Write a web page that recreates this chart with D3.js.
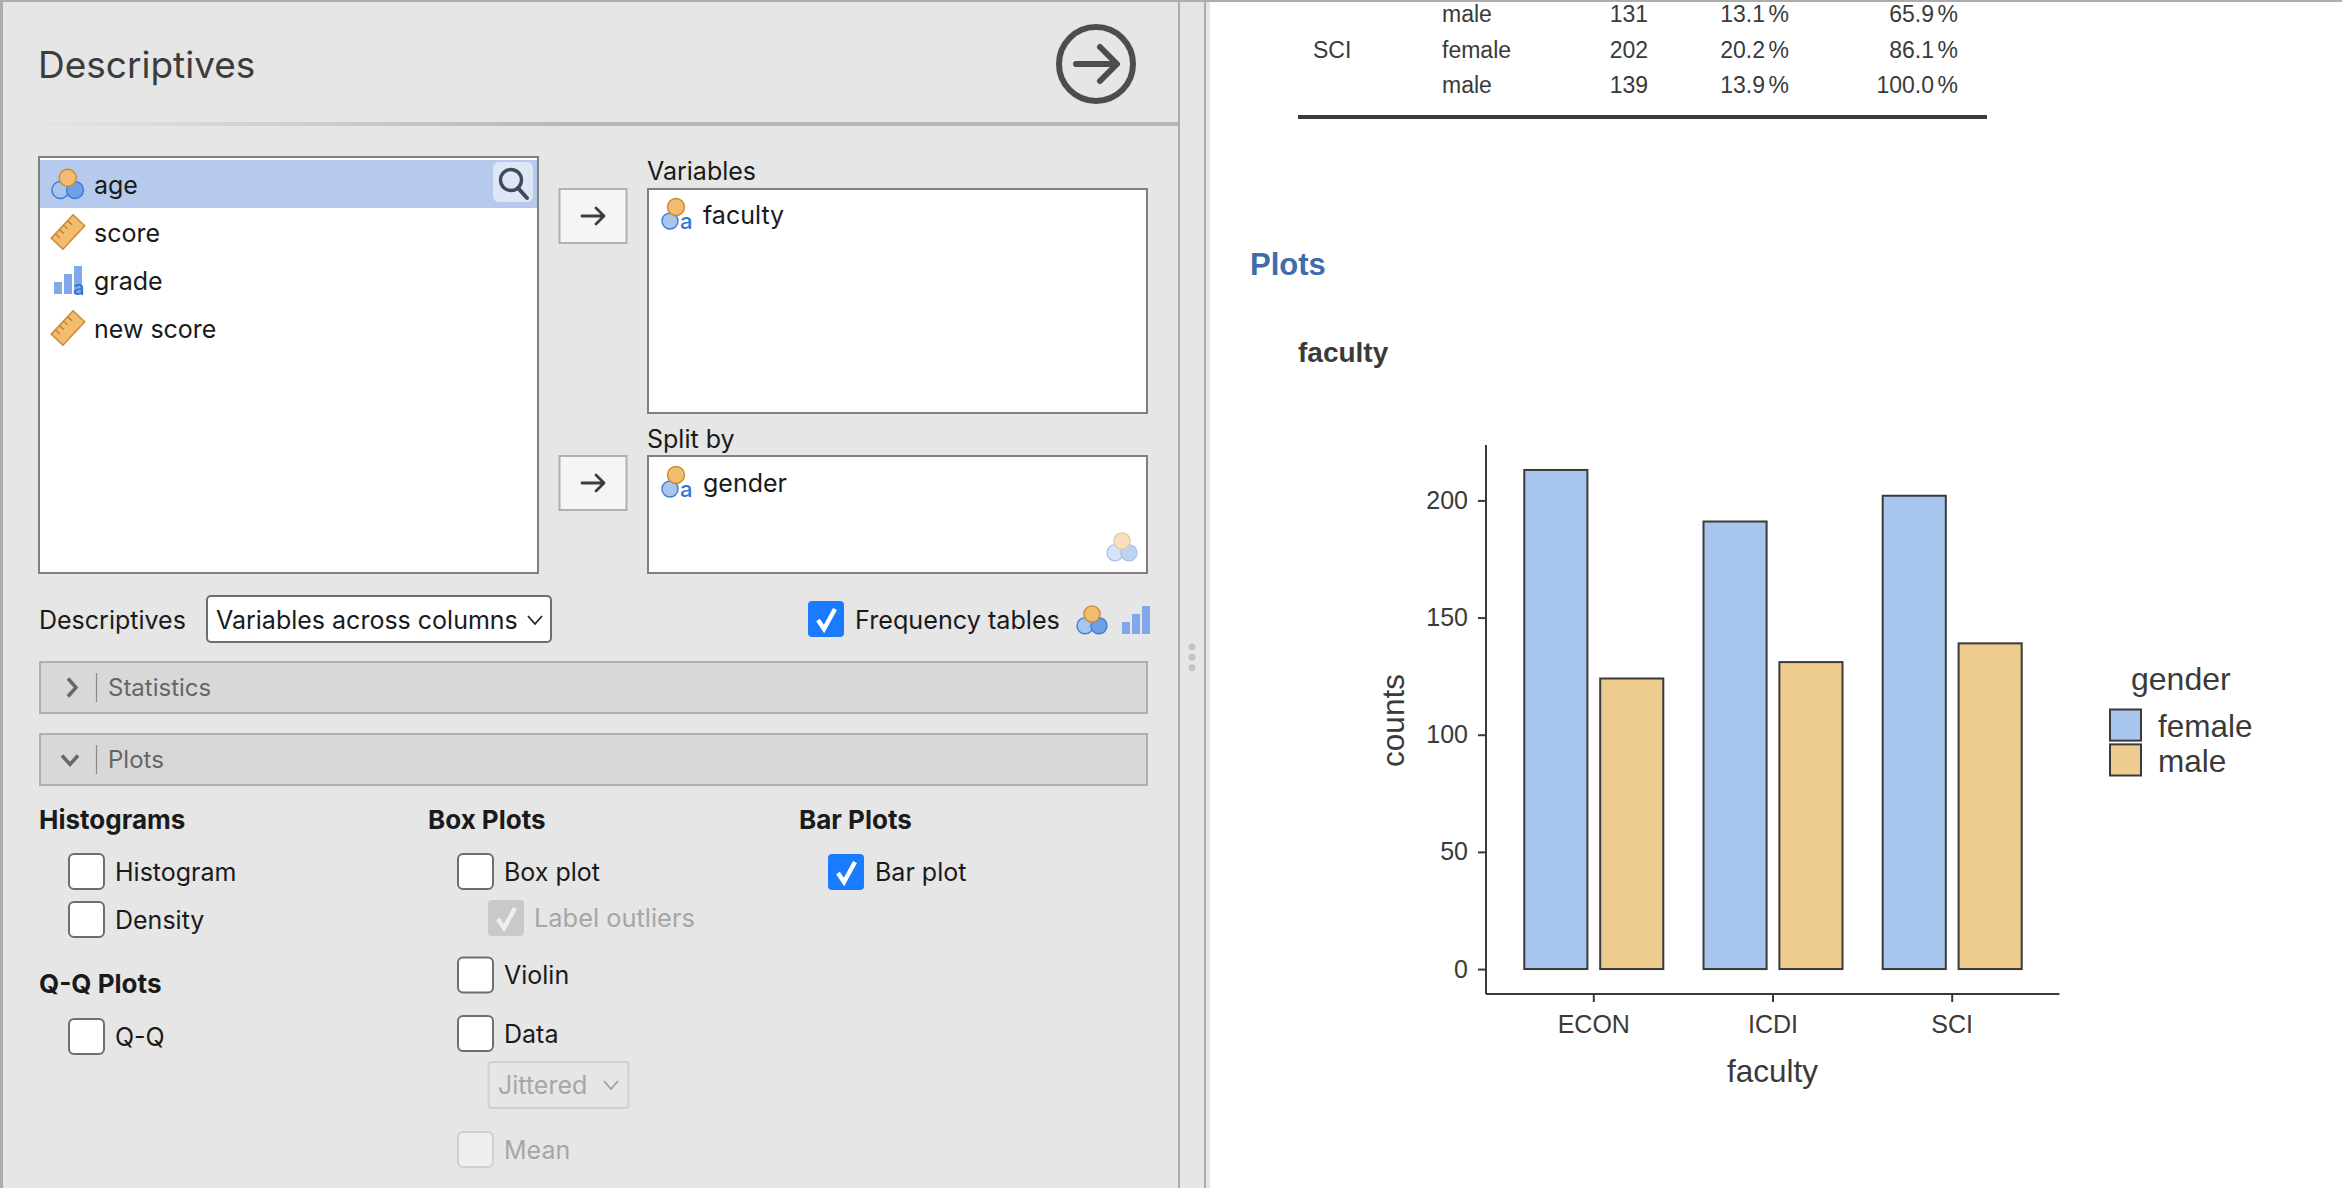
<!DOCTYPE html>
<html><head><meta charset="utf-8">
<script src="https://cdnjs.cloudflare.com/ajax/libs/d3/7.8.5/d3.min.js"></script>
<style>
html,body{margin:0;padding:0;background:#fff;overflow:hidden}
svg{display:block}
.ui{font-family:Inter,Roboto,sans-serif}
.res{font-family:"Liberation Sans",Arial,sans-serif}
</style></head><body><div id="c"></div>
<script>
// ---- chart data ----
const faculties = ["ECON","ICDI","SCI"];
const genders = ["female","male"];
const femaleCounts = [213,191,202];
const maleCounts = [124,131,139];
const yTicks = [0,50,100,150,200];
// ---- results table ----
const tableFaculty = ["","SCI",""];
const tableGender = ["male","female","male"];
const tableCounts = [131,202,139];
const tablePercent = ["13.1","20.2","13.9"];
const tableCumulative = ["65.9","86.1","100.0"];
// ---- option labels ----
const sourceVars = ["age","score","grade","new score"];
const colHist = ["Histogram","Density"];
const colBox = ["Box plot","Violin","Data"];

const W=2342,H=1188;
const svg=d3.select("#c").append("svg").attr("width",W).attr("height",H);
const ink="#3a3a3a", uiInk="#1a1a1a", dim="#a6a6a6", blueA="#a8c5ee", tanA="#eecc8f";
const fillOf={female:blueA,male:tanA};

// ===== panel =====
svg.append("rect").attr("width",W).attr("height",H).attr("fill","#fff");
svg.append("rect").attr("x",0).attr("y",0).attr("width",1210).attr("height",H).attr("fill","#e6e6e6");
svg.append("rect").attr("x",0).attr("y",0).attr("width",3).attr("height",H).attr("fill","#adadad");
svg.append("rect").attr("x",1178).attr("y",0).attr("width",2).attr("height",H).attr("fill","#adadad");
svg.append("rect").attr("x",1204).attr("y",0).attr("width",2).attr("height",H).attr("fill","#adadad");
svg.append("rect").attr("x",0).attr("y",0).attr("width",W).attr("height",2).attr("fill","#adadad");
[646.7,657.3,667.8].forEach(y=>svg.append("circle").attr("cx",1192).attr("cy",y).attr("r",3.5).attr("fill","#c4c4c4"));

const defs=svg.append("defs");
const grad=defs.append("linearGradient").attr("id","div");
grad.append("stop").attr("offset","0").attr("stop-color","#b5b5b5").attr("stop-opacity",0);
grad.append("stop").attr("offset","0.5").attr("stop-color","#b5b5b5");
svg.append("rect").attr("x",20).attr("y",122).attr("width",1158).attr("height",4).attr("fill","url(#div)");

const ui=svg.append("g").attr("class","ui");
function label(t,x,y,o={}){return ui.append("text").text(t).attr("x",x).attr("y",y).attr("dy","0.35em")
  .attr("font-size",o.size||25).attr("fill",o.fill||uiInk).attr("font-weight",o.weight||400);}
label("Descriptives",38,65,{size:37,fill:"#3c3c3c"});

// go arrow
ui.append("circle").attr("cx",1096).attr("cy",64).attr("r",37).attr("fill","none").attr("stroke","#4d4d4d").attr("stroke-width",6);
ui.append("path").attr("d","M1076 64H1116M1100 47L1117 64L1100 81").attr("fill","none").attr("stroke","#4d4d4d").attr("stroke-width",6).attr("stroke-linecap","round").attr("stroke-linejoin","round");

function box(x,y,w,h){ui.append("rect").attr("x",x).attr("y",y).attr("width",w).attr("height",h).attr("fill","#fff").attr("stroke","#808080").attr("stroke-width",2);}
box(39,157,499,416);
ui.append("rect").attr("x",40).attr("y",160).attr("width",497).attr("height",48).attr("fill","#b5caed");
ui.append("rect").attr("x",493).attr("y",162).attr("width",40).attr("height",40).attr("rx",6).attr("fill","#dfe7f6");
ui.append("circle").attr("cx",511).attr("cy",180).attr("r",10.5).attr("fill","none").attr("stroke","#3f4a5a").attr("stroke-width",3.4);
ui.append("path").attr("d","M518 188L527 198").attr("stroke","#3f4a5a").attr("stroke-width",4).attr("stroke-linecap","round");

function nominal(cx,cy,scale,op){ // cx = orange centre, cy= group centre
  const g=ui.append("g").attr("transform",`translate(${cx},${cy}) scale(${scale})`).attr("opacity",op||1);
  g.append("circle").attr("cx",-7.3).attr("cy",6).attr("r",8.5).attr("fill","#a8c5ee").attr("stroke","#3e7bd6").attr("stroke-width",1.4);
  g.append("circle").attr("cx",7.3).attr("cy",6).attr("r",8.5).attr("fill","#6f9fe6").attr("stroke","#3e7bd6").attr("stroke-width",1.4);
  g.append("circle").attr("cx",0).attr("cy",-6.3).attr("r",8.5).attr("fill","#f2bd6e").attr("stroke","#c98a2e").attr("stroke-width",1.4);
}
function nominalText(cx,cy){
  const g=ui.append("g").attr("transform",`translate(${cx},${cy})`);
  g.append("circle").attr("cx",-6).attr("cy",7).attr("r",8).attr("fill","#a8c5ee").attr("stroke","#3e7bd6").attr("stroke-width",1.4);
  g.append("circle").attr("cx",0).attr("cy",-7).attr("r",8.5).attr("fill","#f2bd6e").attr("stroke","#c98a2e").attr("stroke-width",1.4);
  g.append("text").text("a").attr("x",4).attr("y",15).attr("font-size",22).attr("fill","#2f74d8").attr("font-weight",500);
}
function ruler(cx,cy){
  const g=ui.append("g").attr("transform",`translate(${cx},${cy}) rotate(-47)`);
  g.append("rect").attr("x",-16).attr("y",-8).attr("width",32).attr("height",16).attr("fill","#f2bd6e").attr("stroke","#d08f35").attr("stroke-width",1.6);
  [-10,-4,2,8].forEach(d=>g.append("line").attr("x1",d).attr("x2",d).attr("y1",-8).attr("y2",-2).attr("stroke","#b97c25").attr("stroke-width",1.2));
}
function barsIcon(x,y,a){
  const g=ui.append("g").attr("transform",`translate(${x},${y})`);
  [[0,16,8],[10,8,8],[20,0,8]].forEach(b=>g.append("rect").attr("x",b[0]).attr("y",b[1]).attr("width",b[2]).attr("height",28-b[1]).attr("fill","#7fa9ea"));
  if(a) g.append("text").text("a").attr("x",19).attr("y",29).attr("font-size",20).attr("fill","#2f74d8").attr("font-weight",500);
}
const rowY=[185,233,281,329];
sourceVars.forEach((v,i)=>label(v,94,rowY[i]));
nominal(67.7,184,1);
ruler(68,232);
barsIcon(54,266,true);
ruler(68,328);

function arrowBtn(y){
  ui.append("rect").attr("x",559.5).attr("y",y).attr("width",67).attr("height",54).attr("fill","#f5f5f5").attr("stroke","#b0b0b0").attr("stroke-width",2);
  const c=y+27;
  ui.append("path").attr("d",`M582 ${c}H604M596 ${c-8}L604 ${c}L596 ${c+8}`).attr("fill","none").attr("stroke","#3c3c3c").attr("stroke-width",2.8).attr("stroke-linecap","round").attr("stroke-linejoin","round");
}
arrowBtn(189); arrowBtn(456);
label("Variables",647,171);
box(648,189,499,224);
nominalText(676,214); label("faculty",703,215);
label("Split by",647,439);
box(648,456,499,117);
nominalText(676,482); label("gender",703,483);
nominal(1122,547,0.95,0.45);

label("Descriptives",39,620);
ui.append("rect").attr("x",207).attr("y",596).attr("width",344).attr("height",46).attr("rx",4).attr("fill","#fff").attr("stroke","#6e6e6e").attr("stroke-width",2);
label("Variables across columns",216,620);
ui.append("path").attr("d","M528 616L535 624L542 616").attr("fill","none").attr("stroke","#222").attr("stroke-width",1.8);

function check(x,cy,state){
  const y=cy-18;
  if(state==="on"){
    ui.append("rect").attr("x",x).attr("y",y).attr("width",36).attr("height",36).attr("rx",4).attr("fill","#1a7bff");
    ui.append("path").attr("d",`M${x+10} ${y+19}L${x+16} ${y+28}L${x+27} ${y+8}`).attr("fill","none").attr("stroke","#fff").attr("stroke-width",4.4);
  } else if(state==="dim"){
    ui.append("rect").attr("x",x).attr("y",y).attr("width",36).attr("height",36).attr("rx",4).attr("fill","#c9c9c9");
    ui.append("path").attr("d",`M${x+10} ${y+19}L${x+16} ${y+28}L${x+27} ${y+8}`).attr("fill","none").attr("stroke","#efefef").attr("stroke-width",4.4);
  } else if(state==="off"){
    ui.append("rect").attr("x",x).attr("y",y).attr("width",35).attr("height",35).attr("rx",5).attr("fill","#fff").attr("stroke","#6e6e6e").attr("stroke-width",2);
  } else {
    ui.append("rect").attr("x",x).attr("y",y).attr("width",35).attr("height",35).attr("rx",5).attr("fill","#efefef").attr("stroke","#cfcfcf").attr("stroke-width",2);
  }
}
check(808,619,"on"); label("Frequency tables",855,620,{size:25.2});
nominal(1092,620,0.95); barsIcon(1122,606,false);

function section(y,t,open){
  ui.append("rect").attr("x",40).attr("y",y).attr("width",1107).attr("height",51).attr("fill","#d8d8d8").attr("stroke","#b0b0b0").attr("stroke-width",2);
  ui.append("line").attr("x1",96.5).attr("x2",96.5).attr("y1",y+11).attr("y2",y+40).attr("stroke","#8a8a8a").attr("stroke-width",1.2);
  const c=y+25.5;
  ui.append("path").attr("d",open?`M62 ${c-4}L70 ${c+5}L78 ${c-4}`:`M68 ${c-9}L76 ${c}L68 ${c+9}`).attr("fill","none").attr("stroke","#666").attr("stroke-width",3.4);
  label(t,108,c,{fill:"#666",size:24});
}
section(662,"Statistics",false);
section(734,"Plots",true);

const headSize=26;
label("Histograms",39,820,{weight:700,size:headSize});
label("Box Plots",428,820,{weight:700,size:headSize});
label("Bar Plots",799,820,{weight:700,size:headSize});
label("Q-Q Plots",39,984,{weight:700,size:headSize});
const histY=[872,920];
colHist.forEach((t,i)=>{check(69,histY[i],"off");label(t,115,histY[i]);});
check(69,1037,"off");label("Q-Q",115,1037);
const boxY=[872,975.5,1034];
colBox.forEach((t,i)=>{check(458,boxY[i],"off");label(t,504,boxY[i]);});
check(488,918,"dim");label("Label outliers",534,918,{fill:dim,size:25.4});
check(828,872,"on");label("Bar plot",875,872);
ui.append("rect").attr("x",488.5).attr("y",1062).attr("width",140).attr("height",46).attr("rx",3).attr("fill","#e6e6e6").attr("stroke","#d0d0d0").attr("stroke-width",2);
label("Jittered",498,1085,{fill:dim});
ui.append("path").attr("d","M604 1081L611 1089L618 1081").attr("fill","none").attr("stroke","#a0a0a0").attr("stroke-width",1.8);
check(458,1150,"dis");label("Mean",504,1150,{fill:dim});

// ===== results table =====
const res=svg.append("g").attr("class","res").attr("fill",ink);
const tblY=[14,49.5,85];
function tcell(col,x,anchor){
  res.selectAll(null).data(col).join("text").text(d=>d).attr("x",x).attr("y",(d,i)=>tblY[i]).attr("dy","0.35em")
    .attr("font-size",23).attr("text-anchor",anchor);
}
tcell(tableFaculty,1313,"start");
tcell(tableGender,1442,"start");
tcell(tableCounts,1648,"end");
tcell(tablePercent,1765,"end");
tcell(tablePercent.map(()=>"%"),1789,"end");
tcell(tableCumulative,1934,"end");
tcell(tableCumulative.map(()=>"%"),1958,"end");
res.append("rect").attr("x",1298).attr("y",115).attr("width",689).attr("height",4).attr("fill",ink);
res.append("text").text("Plots").attr("x",1250).attr("y",275).attr("font-size",31).attr("font-weight",700).attr("fill","#3e6da9");
res.append("text").text("faculty").attr("x",1298).attr("y",362).attr("font-size",28).attr("font-weight",700);

// ===== bar chart =====
const chart=svg.append("g").attr("class","res");
const x=d3.scaleBand().domain(faculties).range([1504.2,2041.8]);
const xLine=[1486,2059.4];
const y=d3.scaleLinear().domain([-10.65,223.65]).range([994,445]);
const inner=d3.scaleBand().domain(genders).range([-69.5,69.5]).paddingInner(0.1686);
const rows=faculties.flatMap((f,i)=>[{f,g:"female",v:femaleCounts[i]},{f,g:"male",v:maleCounts[i]}]);
chart.selectAll("rect.bar").data(rows).join("rect").attr("class","bar")
  .attr("x",d=>x(d.f)+x.bandwidth()/2+inner(d.g)).attr("width",inner.bandwidth())
  .attr("y",d=>y(d.v)).attr("height",d=>y(0)-y(d.v))
  .attr("fill",d=>fillOf[d.g]).attr("stroke",ink).attr("stroke-width",2);

const ax=chart.append("g").attr("transform",`translate(0,${y.range()[0]})`)
  .call(d3.axisBottom(x).tickSize(8).tickPadding(13));
ax.select(".domain").attr("d",`M${xLine[0]},0H${xLine[1]}`);
const ay=chart.append("g").attr("transform",`translate(${xLine[0]},0)`)
  .call(d3.axisLeft(y).tickValues(yTicks).tickSize(8).tickPadding(10));
ay.select(".domain").attr("d",`M0,${y.range()[0]}V${y.range()[1]}`);
[ax,ay].forEach(a=>{
  a.attr("font-family",null).attr("font-size",25);
  a.selectAll("text").attr("fill",ink);
  a.selectAll("line").attr("stroke",ink).attr("stroke-width",2);
  a.select(".domain").attr("stroke",ink).attr("stroke-width",2);
});
chart.append("text").text("faculty").attr("x",1772.5).attr("y",1082).attr("text-anchor","middle").attr("font-size",31.5).attr("fill",ink);
chart.append("text").text("counts").attr("transform","translate(1404,720.5) rotate(-90)").attr("text-anchor","middle").attr("font-size",31.5).attr("fill",ink);

chart.append("text").text("gender").attr("x",2131).attr("y",689.5).attr("font-size",32).attr("fill",ink);
const keyY=d3.scaleBand().domain(genders).range([708.5,776.5]).paddingInner(0.05);
chart.selectAll("rect.key").data(genders).join("rect").attr("class","key")
  .attr("x",2110).attr("width",31).attr("y",d=>keyY(d)+1).attr("height",keyY.bandwidth()-2)
  .attr("fill",d=>fillOf[d]).attr("stroke",ink).attr("stroke-width",2);
chart.selectAll("text.keyl").data(genders).join("text").attr("class","keyl").text(d=>d)
  .attr("x",2158).attr("y",d=>keyY(d)+keyY.bandwidth()/2+1).attr("dy","0.35em").attr("font-size",31.5).attr("fill",ink);
</script></body></html>
